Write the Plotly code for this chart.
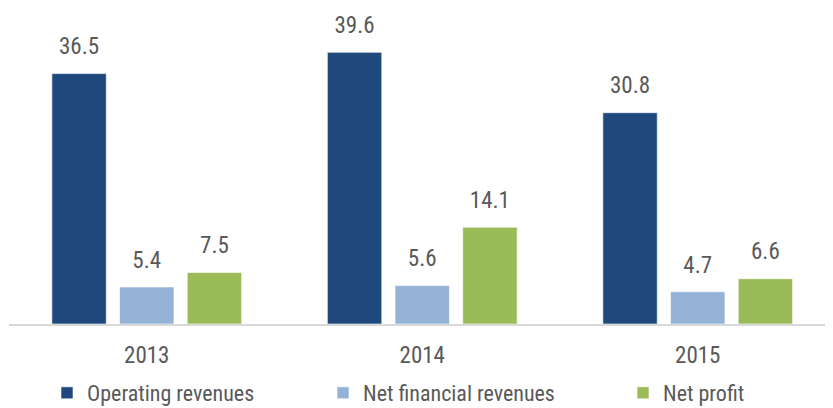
import plotly.graph_objects as go

years = ["2013", "2014", "2015"]
series_names = ["Operating revenues", "Net financial revenues", "Net profit"]
operating_revenues = [36.5, 39.6, 30.8]
net_financial_revenues = [5.4, 5.6, 4.7]
net_profit = [7.5, 14.1, 6.6]
series_values = [operating_revenues, net_financial_revenues, net_profit]
colors = ["#1F497D", "#95B3D7", "#9BBB59"]

FONT = "Liberation Sans Narrow, Arial Narrow, Roboto Condensed, Liberation Sans, sans-serif"
TXT = "#595959"
FS = 23

# page body has an 8px margin, so the figure is 825x400
W, H = 825, 400

fig = go.Figure()
legends = ["legend", "legend2", "legend3"]
for name, vals, col, lg in zip(series_names, series_values, colors, legends):
    fig.add_trace(go.Bar(
        x=years, y=vals, name=name, marker=dict(color=col, line=dict(color="rgba(255,255,255,0.6)", width=1)),
        legend=lg, hoverinfo="skip", offsetgroup=name,
    ))
for name, vals in zip(series_names, series_values):
    fig.add_trace(go.Scatter(
        x=years, y=vals, mode="markers+text", text=[f"{v:.1f}" for v in vals],
        textposition="top center", textfont=dict(family=FONT, size=FS, color=TXT),
        marker=dict(size=20, color="rgba(0,0,0,0)"), showlegend=False, hoverinfo="skip",
        offsetgroup=name, cliponaxis=False,
    ))

leg_x = [68, 344, 644]
leg_common = dict(orientation="h", xref="container", yref="container", xanchor="left", yanchor="middle",
                  y=(H - 385) / H, font=dict(family=FONT, size=22, color=TXT), bgcolor="rgba(0,0,0,0)",
                  itemwidth=30)
layout_legends = {}
for lg, lx in zip(legends, leg_x):
    layout_legends[lg] = dict(leg_common, x=(lx - 29) / W)

fig.update_layout(
    width=W, height=H,
    margin=dict(l=1, r=0, t=2, b=84, autoexpand=False),
    paper_bgcolor="white", plot_bgcolor="white",
    barmode="group", bargap=0.263, bargroupgap=0.196,
    scattermode="group", scattergap=0.263,
    font=dict(family=FONT, size=FS, color=TXT),
    xaxis=dict(type="category", range=[-0.5, 2.491], showline=True, linecolor="#D9D9D9", linewidth=1.5,
               ticks="", showgrid=False, tickfont=dict(family=FONT, size=FS, color=TXT), ticklabelstandoff=10),
    yaxis=dict(range=[0, 45.77], visible=False, showgrid=False, zeroline=False),
    showlegend=True,
    **layout_legends,
)

fig.write_html("out.html")
